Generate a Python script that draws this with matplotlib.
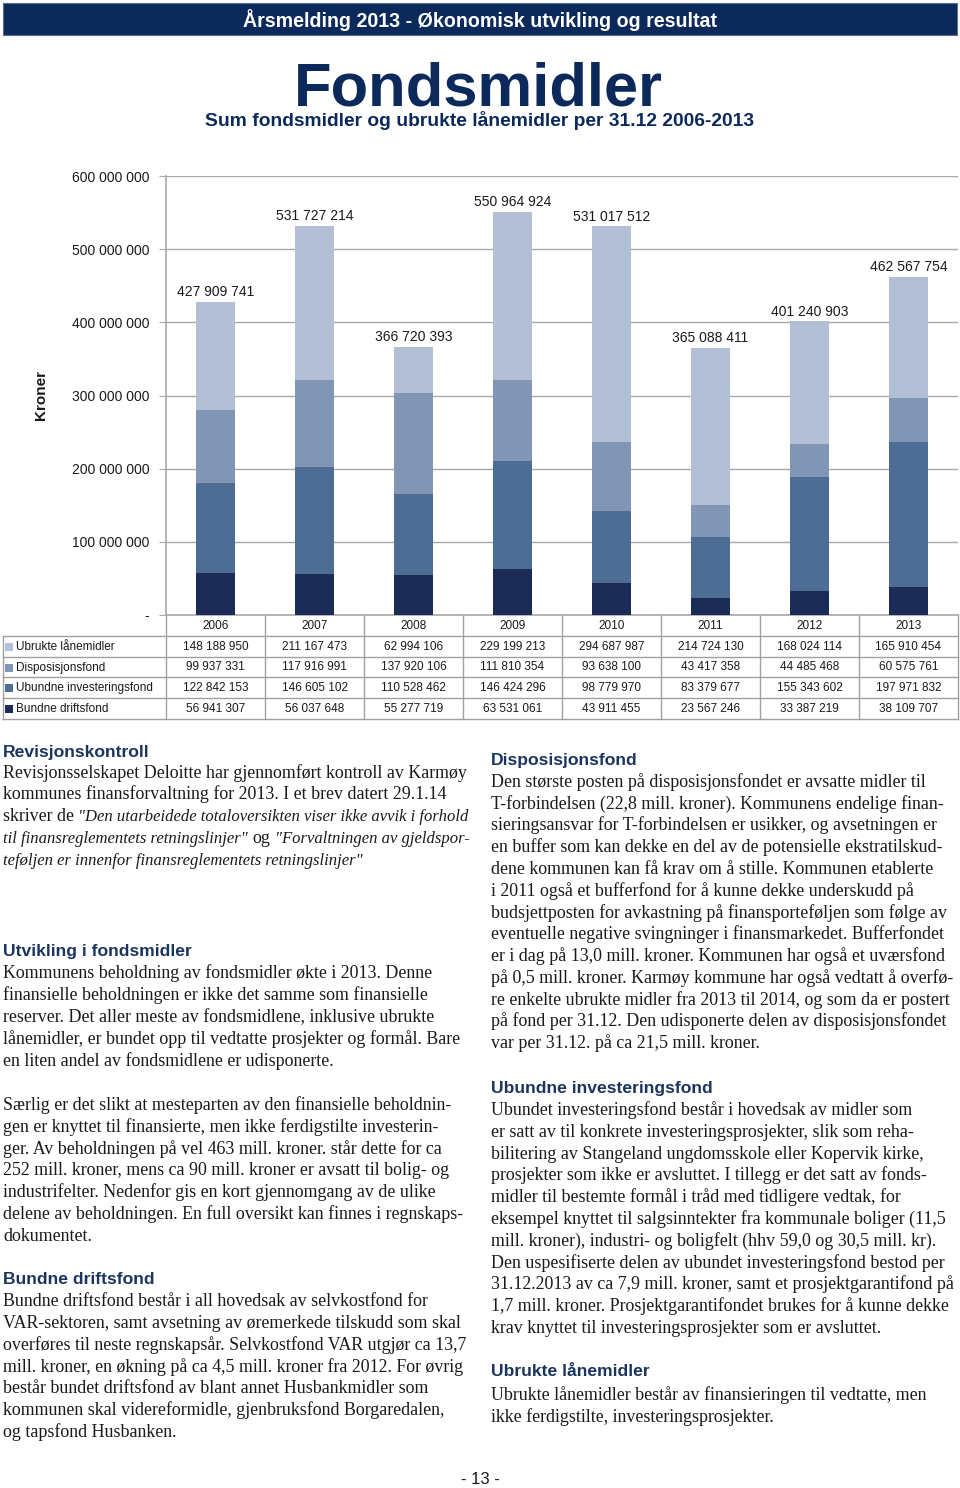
import matplotlib
matplotlib.use('Agg')
import matplotlib.pyplot as plt
from matplotlib import font_manager
from matplotlib.font_manager import FontProperties
from matplotlib.patches import Rectangle
from matplotlib.transforms import blended_transform_factory
from matplotlib.ticker import FixedLocator, FuncFormatter

# ---------------- data ----------------
years = ['2006', '2007', '2008', '2009', '2010', '2011', '2012', '2013']
ubrukte = [148188950, 211167473, 62994106, 229199213, 294687987, 214724130, 168024114, 165910454]
disposisjon = [99937331, 117916991, 137920106, 111810354, 93638100, 43417358, 44485468, 60575761]
ubundne = [122842153, 146605102, 110528462, 146424296, 98779970, 83379677, 155343602, 197971832]
bundne = [56941307, 56037648, 55277719, 63531061, 43911455, 23567246, 33387219, 38109707]
total_labels = [427909741, 531727214, 366720393, 550964924, 531017512, 365088411, 401240903, 462567754]
series_names = ['Ubrukte lånemidler', 'Disposisjonsfond', 'Ubundne investeringsfond', 'Bundne driftsfond']
yticks = [0, 100000000, 200000000, 300000000, 400000000, 500000000, 600000000]

header_text = 'Årsmelding 2013 - Økonomisk utvikling og resultat'
title_text = 'Fondsmidler'
subtitle_text = 'Sum fondsmidler og ubrukte lånemidler per 31.12 2006-2013'
ylabel_text = 'Kroner'
page_text = '- 13 -'

R, I = 'normal', 'italic'
revisjon_lines = [
    [('Revisjonsselskapet Deloitte har gjennomført kontroll av Karmøy', R)],
    [('kommunes finansforvaltning for 2013. I et brev datert 29.1.14', R)],
    [('skriver de ', R), ('"Den utarbeidede totaloversikten viser ikke avvik i forhold', I)],
    [('til finansreglementets retningslinjer"', I), (' og ', R), ('"Forvaltningen av gjeldspor-', I)],
    [('teføljen er innenfor finansreglementets retningslinjer"', I)],
]
utvikling_lines = [
    'Kommunens beholdning av fondsmidler økte i 2013. Denne',
    'finansielle beholdningen er ikke det samme som finansielle',
    'reserver. Det aller meste av fondsmidlene, inklusive ubrukte',
    'lånemidler, er bundet opp til vedtatte prosjekter og formål. Bare',
    'en liten andel av fondsmidlene er udisponerte.',
]
saerlig_lines = [
    'Særlig er det slikt at mesteparten av den finansielle beholdnin-',
    'gen er knyttet til finansierte, men ikke ferdigstilte investerin-',
    'ger. Av beholdningen på vel 463 mill. kroner. står dette for ca',
    '252 mill. kroner, mens ca 90 mill. kroner er avsatt til bolig- og',
    'industrifelter. Nedenfor gis en kort gjennomgang av de ulike',
    'delene av beholdningen. En full oversikt kan finnes i regnskaps-',
    'dokumentet.',
]
bundne_lines = [
    'Bundne driftsfond består i all hovedsak av selvkostfond for',
    'VAR-sektoren, samt avsetning av øremerkede tilskudd som skal',
    'overføres til neste regnskapsår. Selvkostfond VAR utgjør ca 13,7',
    'mill. kroner, en økning på ca 4,5 mill. kroner fra 2012. For øvrig',
    'består bundet driftsfond av blant annet Husbankmidler som',
    'kommunen skal videreformidle, gjenbruksfond Borgaredalen,',
    'og tapsfond Husbanken.',
]
dispo_lines = [
    'Den største posten på disposisjonsfondet er avsatte midler til',
    'T-forbindelsen (22,8 mill. kroner). Kommunens endelige finan-',
    'sieringsansvar for T-forbindelsen er usikker, og avsetningen er',
    'en buffer som kan dekke en del av de potensielle ekstratilskud-',
    'dene kommunen kan få krav om å stille. Kommunen etablerte',
    'i 2011 også et bufferfond for å kunne dekke underskudd på',
    'budsjettposten for avkastning på finansporteføljen som følge av',
    'eventuelle negative svingninger i finansmarkedet. Bufferfondet',
    'er i dag på 13,0 mill. kroner. Kommunen har også et uværsfond',
    'på 0,5 mill. kroner. Karmøy kommune har også vedtatt å overfø-',
    're enkelte ubrukte midler fra 2013 til 2014, og som da er postert',
    'på fond per 31.12. Den udisponerte delen av disposisjonsfondet',
    'var per 31.12. på ca 21,5 mill. kroner.',
]
ubundne_lines = [
    'Ubundet investeringsfond består i hovedsak av midler som',
    'er satt av til konkrete investeringsprosjekter, slik som reha-',
    'bilitering av Stangeland ungdomsskole eller Kopervik kirke,',
    'prosjekter som ikke er avsluttet. I tillegg er det satt av fonds-',
    'midler til bestemte formål i tråd med tidligere vedtak, for',
    'eksempel knyttet til salgsinntekter fra kommunale boliger (11,5',
    'mill. kroner), industri- og boligfelt (hhv 59,0 og 30,5 mill. kr).',
    'Den uspesifiserte delen av ubundet investeringsfond bestod per',
    '31.12.2013 av ca 7,9 mill. kroner, samt et prosjektgarantifond på',
    '1,7 mill. kroner. Prosjektgarantifondet brukes for å kunne dekke',
    'krav knyttet til investeringsprosjekter som er avsluttet.',
]
ubrukte_lines = [
    'Ubrukte lånemidler består av finansieringen til vedtatte, men',
    'ikke ferdigstilte, investeringsprosjekter.',
]

# ---------------- styles ----------------
def pick(*names):
    for n in names:
        try:
            font_manager.findfont(FontProperties(family=n), fallback_to_default=False)
            return n
        except Exception:
            pass
    return 'DejaVu Sans'

SANS = pick('Liberation Sans', 'Arial', 'DejaVu Sans')
SERIF = pick('Liberation Serif', 'DejaVu Serif')

NAVY = '#0b2a5b'
HEAD = '#1b355f'
TEXT = '#1a1a1a'
colors = {'Ubrukte lånemidler': '#b3bfd4',
          'Disposisjonsfond': '#8196b4',
          'Ubundne investeringsfond': '#4d6d94',
          'Bundne driftsfond': '#1b2c57'}
GRID = '#a8a8a8'

W, H = 960, 1488
fig = plt.figure(figsize=(W / 100, H / 100), dpi=100)
bg = fig.add_axes([0, 0, 1, 1])
bg.set_xlim(0, W)
bg.set_ylim(H, 0)
bg.axis('off')
renderer = fig.canvas.get_renderer()


def fit_text(x, y, s, target_w, **kw):
    t = bg.text(x, y, s, fontsize=20, **kw)
    w = t.get_window_extent(renderer=renderer).width
    t.set_fontsize(20 * target_w / w)
    return t


# header bar
bg.add_patch(Rectangle((3, 3), 954, 32, facecolor=NAVY, edgecolor='#5a6f8f', lw=0.8))
fit_text(480, 20, header_text, 472, ha='center', va='center', color='white',
         family=SANS, weight='bold')
fit_text(478, 105, title_text, 369, ha='center', va='baseline', color=NAVY,
         family=SANS, weight='bold')
fit_text(480, 126, subtitle_text, 550, ha='center', va='baseline', color=NAVY,
         family=SANS, weight='bold')

# ---------------- chart ----------------
ax_left, ax_right, ax_top, ax_bot = 166, 958, 176, 615
ax = fig.add_axes([ax_left / W, 1 - ax_bot / H, (ax_right - ax_left) / W, (ax_bot - ax_top) / H])
xs = list(range(len(years)))
stack = [('Bundne driftsfond', bundne), ('Ubundne investeringsfond', ubundne),
         ('Disposisjonsfond', disposisjon), ('Ubrukte lånemidler', ubrukte)]
bottom = [0] * len(years)
for name, vals in stack:
    ax.bar(xs, vals, width=0.39, bottom=bottom, color=colors[name], zorder=3, linewidth=0)
    bottom = [b + v for b, v in zip(bottom, vals)]
for x, top, lab in zip(xs, bottom, total_labels):
    ax.annotate(f'{lab:,}'.replace(',', ' '), (x, top), xytext=(0, 2), textcoords='offset points',
                ha='center', va='bottom', fontsize=10, family=SANS, color=TEXT)

ax.set_xlim(-0.5, len(years) - 0.5)
ax.set_ylim(0, 600000000)
ax.yaxis.set_major_locator(FixedLocator(yticks))
ax.yaxis.set_major_formatter(FuncFormatter(lambda v, p: '-' if v == 0 else f'{int(v):,}'.replace(',', ' ')))
ax.grid(axis='y', color=GRID, lw=1, zorder=0)
ax.set_xticks([])
for s in ['top', 'right']:
    ax.spines[s].set_visible(False)
for s in ['left', 'bottom']:
    ax.spines[s].set_color(GRID)
    ax.spines[s].set_linewidth(1.2)
ax.tick_params(axis='y', length=5, color=GRID, pad=7, labelsize=10, labelcolor=TEXT)
for lab in ax.get_yticklabels():
    lab.set_family(SANS)
ax.set_ylabel(ylabel_text, fontsize=11, weight='bold', family=SANS, color=TEXT)
ax.yaxis.set_label_coords(-(166 - 48) / (ax_right - ax_left), 0.5)

# ---------------- table ----------------
trans = blended_transform_factory(ax.transData, bg.transData)
row_y = [615, 636, 657, 677, 698, 719]
tcol = '#a0a0a0'
for xb in [i - 0.5 for i in range(len(years) + 1)]:
    ax.plot([xb, xb], [row_y[0], row_y[-1]], transform=trans, color=tcol, lw=1, clip_on=False)
for yl in row_y[1:]:
    bg.plot([3, ax_right], [yl, yl], color=tcol, lw=1)
bg.plot([3, 3], [row_y[1], row_y[-1]], color=tcol, lw=1)
for x, yr in zip(xs, years):
    ax.text(x, (row_y[0] + row_y[1]) / 2 + 0.5, yr, transform=trans, ha='center', va='center',
            fontsize=8.5, family=SANS, color=TEXT, clip_on=False)
table_rows = [('Ubrukte lånemidler', ubrukte), ('Disposisjonsfond', disposisjon),
              ('Ubundne investeringsfond', ubundne), ('Bundne driftsfond', bundne)]
for r, (name, vals) in enumerate(table_rows):
    yc = (row_y[r + 1] + row_y[r + 2]) / 2 + 0.5
    bg.add_patch(Rectangle((5, yc - 4), 8, 8, facecolor=colors[name], edgecolor='none'))
    bg.text(16, yc, name, ha='left', va='center', fontsize=8.5, family=SANS, color=TEXT)
    for x, v in zip(xs, vals):
        ax.text(x, yc, f'{v:,}'.replace(',', ' '), transform=trans, ha='center', va='center',
                fontsize=8.5, family=SANS, color=TEXT, clip_on=False)

# ---------------- body text ----------------
BODY_FS = 12.0
probe = bg.text(0, 0, 'Revisjonsselskapet Deloitte har gjennomført kontroll av Karmøy',
                fontsize=BODY_FS, family=SERIF)
pw = probe.get_window_extent(renderer=renderer).width
probe.remove()
BODY_FS = BODY_FS * 465 / pw


def text_width(s, style, fs):
    t = bg.text(0, 0, s, fontsize=fs, family=SERIF, style=style)
    w = t.get_window_extent(renderer=renderer).width
    t.remove()
    return w


def space_width(style, fs):
    return text_width('x x', style, fs) - text_width('xx', style, fs)


def seg_width(seg, style, fs):
    lead = len(seg) - len(seg.lstrip(' '))
    trail = len(seg) - len(seg.rstrip(' '))
    return (lead + trail) * space_width(style, fs) + text_width(seg.strip(' '), style, fs)


# italic size so that the widest mixed line fits the column like the reference
ref_line = revisjon_lines[3]
w_reg = sum(seg_width(s, st, BODY_FS) for s, st in ref_line if st == R)
w_it = sum(seg_width(s, st, BODY_FS) for s, st in ref_line if st == I)
ITAL_FS = BODY_FS * (466 - w_reg) / w_it


def heading(x, y, s):
    bg.text(x, y, s, ha='left', va='baseline', fontsize=12.6, weight='bold', family=SANS, color=HEAD)


def body(x, y0, lines, step):
    for k, ln in enumerate(lines):
        y = y0 + k * step
        if isinstance(ln, str):
            bg.text(x, y, ln, ha='left', va='baseline', fontsize=BODY_FS, family=SERIF, color=TEXT)
        else:
            cx = x
            for seg, style in ln:
                fs = ITAL_FS if style == I else BODY_FS
                lead = len(seg) - len(seg.lstrip(' '))
                trail = len(seg) - len(seg.rstrip(' '))
                core = seg.strip(' ')
                cx += lead * space_width(style, fs)
                bg.text(cx, y, core, ha='left', va='baseline', fontsize=fs, family=SERIF,
                        style=style, color=TEXT)
                cx += text_width(core, style, fs) + trail * space_width(style, fs)


LX, RX = 3, 491
heading(LX, 756.5, 'Revisjonskontroll')
body(LX, 777.5, revisjon_lines, 21.9)
heading(LX, 956, 'Utvikling i fondsmidler')
body(LX, 978, utvikling_lines, 21.9)
body(LX, 1110, saerlig_lines, 21.8)
heading(LX, 1284, 'Bundne driftsfond')
body(LX, 1306.5, bundne_lines, 21.7)

heading(RX, 765, 'Disposisjonsfond')
body(RX, 786.7, dispo_lines, 21.8)
heading(RX, 1093, 'Ubundne investeringsfond')
body(RX, 1115, ubundne_lines, 21.8)
heading(RX, 1376.5, 'Ubrukte lånemidler')
body(RX, 1400, ubrukte_lines, 21.8)

bg.text(480, 1484, page_text, ha='center', va='baseline', fontsize=12, family=SANS, color=TEXT)

fig.savefig('out.png', dpi=100)
